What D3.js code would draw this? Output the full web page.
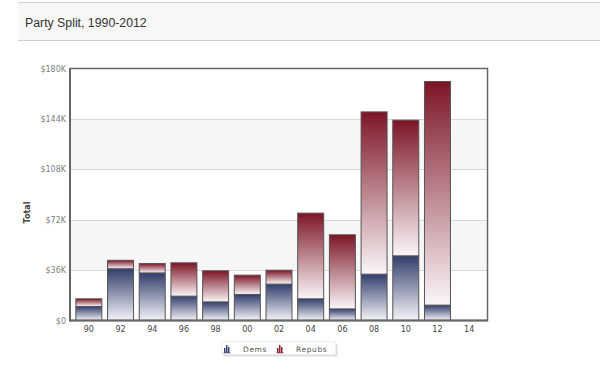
<!DOCTYPE html>
<html>
<head>
<meta charset="utf-8">
<script src="https://cdn.jsdelivr.net/npm/d3@7"></script>
<style>
  body { margin: 0; background: #fff; }
  svg { display: block; }
</style>
</head>
<body>
<div id="chart"></div>
<script>
// dati
const years = ["90", "92", "94", "96", "98", "00", "02", "04", "06", "08", "10", "12", "14"];
const dems = [10, 37, 34, 17.4, 13.3, 18.6, 26, 15.5, 8.3, 33.1, 46.2, 11, 0];
const repubs = [5.5, 6, 6.7, 23.8, 22.2, 13.8, 9.9, 61.2, 52.9, 115.9, 96.9, 159.7, 0];
const yTicks = [0, 36, 72, 108, 144, 180];

const width = 600, height = 367;
const svg = d3.select("#chart").append("svg")
  .attr("width", width)
  .attr("height", height);

// barra del titolo
svg.append("rect")
  .attr("x", 18).attr("y", 2).attr("width", width - 18).attr("height", 38)
  .attr("fill", "#f7f7f7");
svg.append("line").attr("x1", 18).attr("x2", width).attr("y1", 2.5).attr("y2", 2.5)
  .attr("stroke", "#d4d4d4");
svg.append("line").attr("x1", 18).attr("x2", width).attr("y1", 40.5).attr("y2", 40.5)
  .attr("stroke", "#cfcfcf");
svg.append("text")
  .attr("x", 25).attr("y", 26.5)
  .attr("font-family", "Liberation Sans, Arial, sans-serif")
  .attr("font-size", 12.3)
  .attr("fill", "#333")
  .text("Party Split, 1990-2012");

// area del grafico
const plot = { left: 70, right: 487.5, top: 68.5, bottom: 320.5 };

const x = d3.scaleBand()
  .domain(years)
  .range([72.5, 484.5])
  .paddingInner(0.18)
  .paddingOuter(0.09);

const y = d3.scaleLinear()
  .domain([0, 180])
  .range([plot.bottom, plot.top]);

// bande alternate
const g = svg.append("g");
for (let i = 0; i < yTicks.length - 1; i++) {
  if (i % 2 === 1) {
    g.append("rect")
      .attr("x", plot.left).attr("width", plot.right - plot.left)
      .attr("y", y(yTicks[i + 1])).attr("height", y(yTicks[i]) - y(yTicks[i + 1]))
      .attr("fill", "#f6f6f6");
  }
}
// griglia
g.selectAll(".grid")
  .data(yTicks.slice(1, -1))
  .enter().append("line")
  .attr("x1", plot.left).attr("x2", plot.right)
  .attr("y1", d => Math.round(y(d)) + 0.5).attr("y2", d => Math.round(y(d)) + 0.5)
  .attr("stroke", "#d8d8d8");

// gradienti
const defs = svg.append("defs");
function grad(id, top, bottom) {
  const lg = defs.append("linearGradient").attr("id", id)
    .attr("x1", 0).attr("y1", 0).attr("x2", 0).attr("y2", 1);
  lg.append("stop").attr("offset", "0%").attr("stop-color", top);
  lg.append("stop").attr("offset", "100%").attr("stop-color", bottom);
}
grad("gDem", "#323e6c", "#f4f4f8");
grad("gRep", "#7c1526", "#fbf6f7");

const stackData = years.map((yr, i) => ({ yr, dem: dems[i], rep: repubs[i] }));

const bars = svg.append("g");
stackData.filter(d => d.dem + d.rep > 0).forEach(d => {
  bars.append("rect")
    .attr("x", x(d.yr) + 0.5)
    .attr("width", x.bandwidth())
    .attr("y", y(d.dem))
    .attr("height", y(0) - y(d.dem))
    .attr("fill", "url(#gDem)")
    .attr("stroke", "#555")
    .attr("stroke-width", 1);
  bars.append("rect")
    .attr("x", x(d.yr) + 0.5)
    .attr("width", x.bandwidth())
    .attr("y", y(d.dem + d.rep))
    .attr("height", y(d.dem) - y(d.dem + d.rep))
    .attr("fill", "url(#gRep)")
    .attr("stroke", "#555")
    .attr("stroke-width", 1);
});

// cornice
svg.append("rect")
  .attr("x", plot.left).attr("y", plot.top)
  .attr("width", plot.right - plot.left).attr("height", plot.bottom - plot.top)
  .attr("fill", "none")
  .attr("stroke", "#666")
  .attr("stroke-width", 1.5);
svg.append("line").attr("x1", plot.left).attr("x2", plot.left)
  .attr("y1", plot.top).attr("y2", plot.bottom + 1)
  .attr("stroke", "#666").attr("stroke-width", 2);
svg.append("line").attr("x1", plot.left).attr("x2", plot.right)
  .attr("y1", plot.bottom).attr("y2", plot.bottom)
  .attr("stroke", "#666").attr("stroke-width", 2);

// assi
const yAxis = svg.append("g")
  .attr("transform", `translate(${plot.left},0)`)
  .call(d3.axisLeft(y).tickValues(yTicks).tickSize(0).tickPadding(4)
    .tickFormat(d => d === 0 ? "$0" : "$" + d + "K"));
yAxis.select(".domain").remove();
yAxis.selectAll("text")
  .attr("font-family", "DejaVu Sans, Verdana, sans-serif")
  .attr("font-size", 8)
  .attr("fill", "#808080");

const xAxis = svg.append("g")
  .attr("transform", `translate(0.5,${plot.bottom})`)
  .call(d3.axisBottom(x).tickSize(0).tickPadding(6));
xAxis.select(".domain").remove();
xAxis.selectAll("text")
  .attr("font-family", "DejaVu Sans, Verdana, sans-serif")
  .attr("font-size", 8)
  .attr("fill", "#444");

svg.append("text")
  .attr("transform", "translate(30,212.5) rotate(-90)")
  .attr("text-anchor", "middle")
  .attr("font-family", "DejaVu Sans, Verdana, sans-serif")
  .attr("font-size", 8)
  .attr("font-weight", "bold")
  .attr("fill", "#444")
  .text("Total");

// legenda
const legend = svg.append("g");
legend.append("rect")
  .attr("x", 223.5).attr("y", 343.5).attr("width", 114).attr("height", 13)
  .attr("fill", "#ddd");
legend.append("rect")
  .attr("x", 221.5).attr("y", 341.5).attr("width", 114).attr("height", 13)
  .attr("fill", "#fff").attr("stroke", "#eee");

const legendItems = [
  { label: "Dems", color: "#3a4474", x: 224 },
  { label: "Repubs", color: "#8a2535", x: 277 }
];
legendItems.forEach(it => {
  const ic = legend.append("g").attr("transform", `translate(${it.x},345)`);
  [[0, 3, 5], [2, 0, 8], [4, 2, 6]].forEach(([dx, dy, h]) => {
    ic.append("rect").attr("x", dx).attr("y", dy).attr("width", 1.5).attr("height", h)
      .attr("fill", it.color);
  });
  ic.append("rect").attr("x", -0.5).attr("y", 7.5).attr("width", 7).attr("height", 0.8)
    .attr("fill", it.color);
  legend.append("text")
    .attr("x", it.x + 19).attr("y", 351.5)
    .attr("font-family", "DejaVu Sans, Verdana, sans-serif")
    .attr("font-size", 7.5)
    .attr("letter-spacing", 0.6)
    .attr("fill", "#555")
    .text(it.label);
});
</script>
</body>
</html>
